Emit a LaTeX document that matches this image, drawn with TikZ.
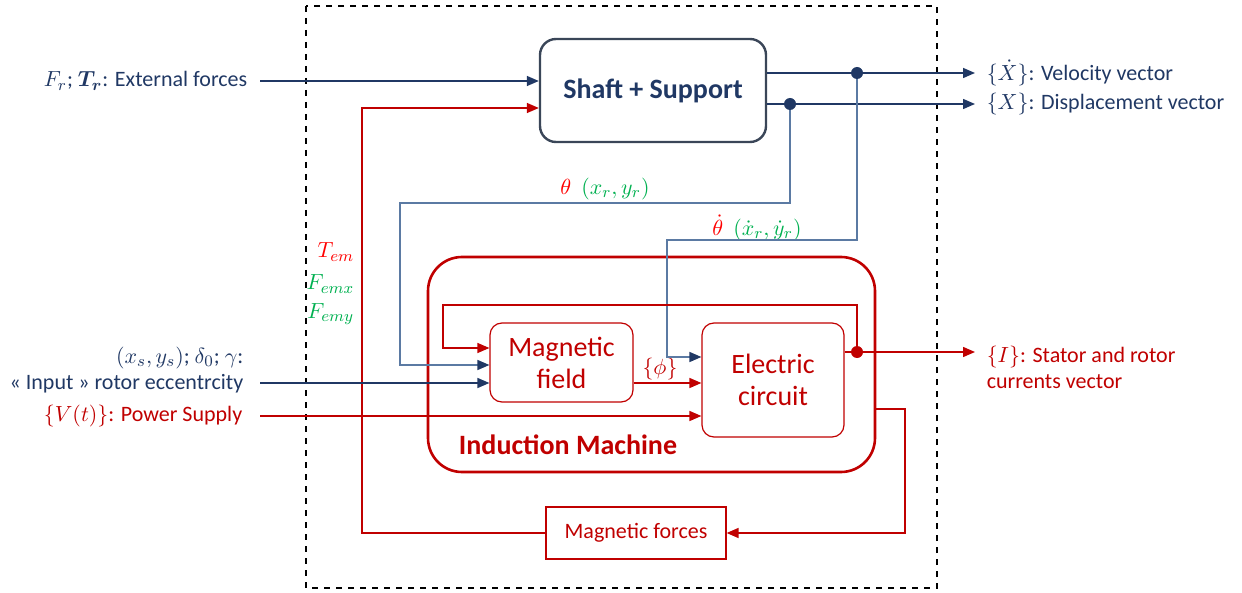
\documentclass[tikz,border=0pt]{standalone}
\usepackage{amsmath}
\usepackage{bm}
\usepackage{fontspec}
\setmainfont{Carlito}
\usetikzlibrary{arrows.meta}
\definecolor{navy}{HTML}{203864}
\definecolor{ired}{HTML}{C00000}
\definecolor{bred}{HTML}{FF0000}
\definecolor{igreen}{HTML}{00B050}
\definecolor{lblue}{HTML}{5B7AA3}
\definecolor{slate}{HTML}{3A4658}

\begin{document}
\begin{tikzpicture}[x=0.5pt, y=-0.5pt, line width=0.75pt,
  >={Triangle[length=6pt,width=5pt]},
  lab/.style={font=\fontsize{11}{13}\selectfont, inner sep=1pt},
  blk/.style={draw=ired, line width=0.6pt, rounded corners=6pt, align=center, text=ired, font=\fontsize{14}{16}\selectfont},
  dot/.style={circle, fill, inner sep=0pt, minimum size=5pt}]
\useasboundingbox (0,0) rectangle (1242,593);
\draw[dashed, line width=0.6pt] (306,6) rectangle (937,588);

% blocks
\node[draw=slate, line width=1.2pt, rounded corners=8pt, minimum width=113pt, minimum height=51.5pt, text=navy, font=\bfseries\fontsize{14}{16}\selectfont] (shaft) at (653,90.5) {Shaft + Support};
\node[draw=ired, line width=1.3pt, rounded corners=17pt, minimum width=223.5pt, minimum height=107.5pt] (im) at (651.5,364.5) {};
\node[text=ired, font=\bfseries\fontsize{14}{16}\selectfont] (imlab) at (568,445) {Induction Machine};
\node[blk, minimum width=71.5pt, minimum height=39.5pt] (mag) at (561.5,362.5) {Magnetic\\field};
\node[blk, minimum width=71pt, minimum height=57pt] (ec) at (773,380) {Electric\\circuit};
\node[blk, rounded corners=0pt, minimum width=90pt, minimum height=26pt, font=\fontsize{11}{13}\selectfont] (mforce) at (636,533) {Magnetic forces};

% free ends
\coordinate (ext) at (260,81);
\coordinate (velo) at (975,73);
\coordinate (disp) at (975,104);
\coordinate (iout) at (975,352);
\coordinate (ecc) at (260,383);
\coordinate (pow) at (260,416);
\coordinate (tem) at (362,108);
\coordinate (dv) at (857,73);
\coordinate (dx) at (790,104);
\coordinate (di) at (857,352);

% labels
\node[lab, text=navy, anchor=east] (extlab) at (250,81) {$F_r$; $\bm{T_r}$: External forces};
\node[lab, text=navy, anchor=west] (velolab) at (984,73) {$\{\dot{X}\}$: Velocity vector};
\node[lab, text=navy, anchor=west] (displab) at (984,104) {$\{X\}$: Displacement vector};
\node[lab, text=ired, anchor=west, align=left] (ilab) at (984,367) {$\{I\}$: Stator and rotor\\currents vector};
\node[lab, text=navy, anchor=east, align=right] (ecclab) at (246,370) {$(x_s,y_s)$;~$\delta_0$;~$\gamma$:\\« Input » rotor eccentrcity};
\node[lab, text=ired, anchor=east] (powlab) at (245,416) {$\{V(t)\}$: Power Supply};
\node[lab] (thlab) at (605,189) {\color{bred}$\theta$~~\color{igreen}$(x_r,y_r)$};
\node[lab] (dthlab) at (757,228) {\color{bred}$\dot{\theta}$~~\color{igreen}$(\dot{x}_r,\dot{y}_r)$};
\node[lab, text=bred, anchor=east] (temlab) at (357,252) {$T_{em}$};
\node[lab, text=igreen, anchor=east] (femx) at (357,284) {$F_{emx}$};
\node[lab, text=igreen, anchor=east] (femy) at (357,314) {$F_{emy}$};
\node[lab, text=ired] (philab) at (660,369) {$\{\phi\}$};

% connectors
\draw[navy, ->] (ext) -- (ext -| shaft.west);
\draw[navy, ->] (shaft.east |- velo) -- (velo);
\draw[navy, ->] (shaft.east |- disp) -- (disp);
\draw[ired, ->] (mforce.west) -| (tem) -- (tem -| shaft.west);
\draw[lblue, -{Triangle[length=6pt,width=5pt,color=navy]}] (dv) -- (857,240) -| (667,357) -- (ec.west |- 0,357);
\draw[lblue, -{Triangle[length=6pt,width=5pt,color=navy]}] (dx) -- (790,203) -| (400,365) -- (mag.west |- 0,365);
\draw[navy, ->] (ecc) -- (ecc -| mag.west);
\draw[ired, ->] (pow) -- (pow -| ec.west);
\draw[ired, ->] (mag.east |- 0,383) -- (ec.west |- 0,383);
\draw[ired, ->] (ec.east |- iout) -- (iout);
\draw[ired, line width=0.6pt, ->] (di) -- (857,305) -| (443,348) -- (mag.west |- 0,348);
\draw[ired, ->] (im.east |- 0,409) -- (905,409) |- (mforce.east);
\fill[navy] (dv) circle (3pt);
\fill[navy] (dx) circle (3pt);
\fill[ired] (di) circle (3pt);
\end{tikzpicture}
\end{document}
